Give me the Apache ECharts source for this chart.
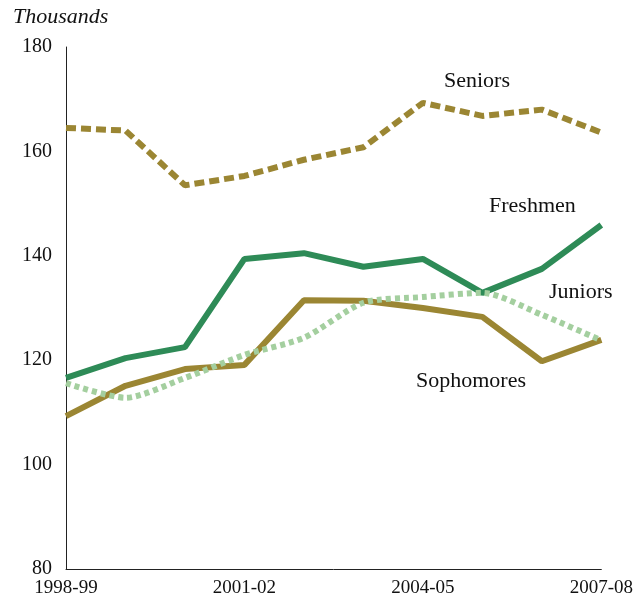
<!DOCTYPE html>
<html>
<head>
<meta charset="utf-8">
<script src="https://cdn.jsdelivr.net/npm/echarts@6/dist/echarts.min.js"></script>
<style>html,body{margin:0;padding:0;background:#fff}#c{width:636px;height:601px}</style>
</head>
<body>
<div id="c"></div>
<script>
var years = ['1998-99','1999-00','2000-01','2001-02','2002-03','2003-04','2004-05','2005-06','2006-07','2007-08'];
var freshmen   = [116.6, 120.4, 122.5, 139.4, 140.5, 137.9, 139.4, 132.9, 137.5, 145.9];
var sophomores = [109.3, 115.1, 118.3, 119.1, 131.5, 131.4, 130.0, 128.3, 119.8, 123.9];
var juniors    = [115.6, 112.8, 116.6, 121.0, 124.3, 131.0, 132.1, 132.9, 128.7, 123.8];
var seniors    = [164.5, 164.0, 153.5, 155.3, 158.4, 160.8, 169.3, 166.8, 168.0, 163.6];
var yTicks = [80, 100, 120, 140, 160, 180];

var font = 'Liberation Serif';
var gold = '#9b8633', green = '#2e8b57', light = '#a4cf9f';
var chart = echarts.init(document.getElementById('c'));
chart.setOption({
  animation: false,
  grid: {left: 66, right: 31, top: 47, bottom: 32},
  xAxis: {
    type: 'category', data: years, boundaryGap: false,
    axisLine: {lineStyle: {color: '#222', width: 1}},
    axisTick: {show: false},
    axisLabel: {interval: 2, color: '#111', fontFamily: font, fontSize: 19, margin: 10},
    splitLine: {show: false}
  },
  yAxis: {
    type: 'value', min: yTicks[0], max: yTicks[yTicks.length-1], interval: 20,
    axisLine: {show: true, lineStyle: {color: '#222', width: 1}},
    axisTick: {show: false},
    axisLabel: {color: '#111', fontFamily: font, fontSize: 20, margin: 14},
    splitLine: {show: false}
  },
  series: [
    {name: 'Freshmen', type: 'line', data: freshmen, symbol: 'none', z: 2,
     lineStyle: {color: green, width: 6}},
    {name: 'Sophomores', type: 'line', data: sophomores, symbol: 'none', z: 3,
     lineStyle: {color: gold, width: 6}},
    {name: 'Juniors', type: 'line', data: juniors, symbol: 'none', z: 4, smooth: 0.25,
     lineStyle: {color: light, width: 6, type: [5, 4]}},
    {name: 'Seniors', type: 'line', data: seniors, symbol: 'none', z: 5,
     lineStyle: {color: gold, width: 6, type: [10, 5]}}
  ],
  graphic: [
    {type: 'text', left: 13, top: 6, style: {text: 'Thousands', font: 'italic 22px "Liberation Serif"', fill: '#111'}},
    {type: 'text', left: 444, top: 70, style: {text: 'Seniors', font: '22px "Liberation Serif"', fill: '#111'}},
    {type: 'text', left: 489, top: 195, style: {text: 'Freshmen', font: '22px "Liberation Serif"', fill: '#111'}},
    {type: 'text', left: 549, top: 281, style: {text: 'Juniors', font: '22px "Liberation Serif"', fill: '#111'}},
    {type: 'text', left: 416, top: 370, style: {text: 'Sophomores', font: '22px "Liberation Serif"', fill: '#111'}}
  ]
});
</script>
</body>
</html>
